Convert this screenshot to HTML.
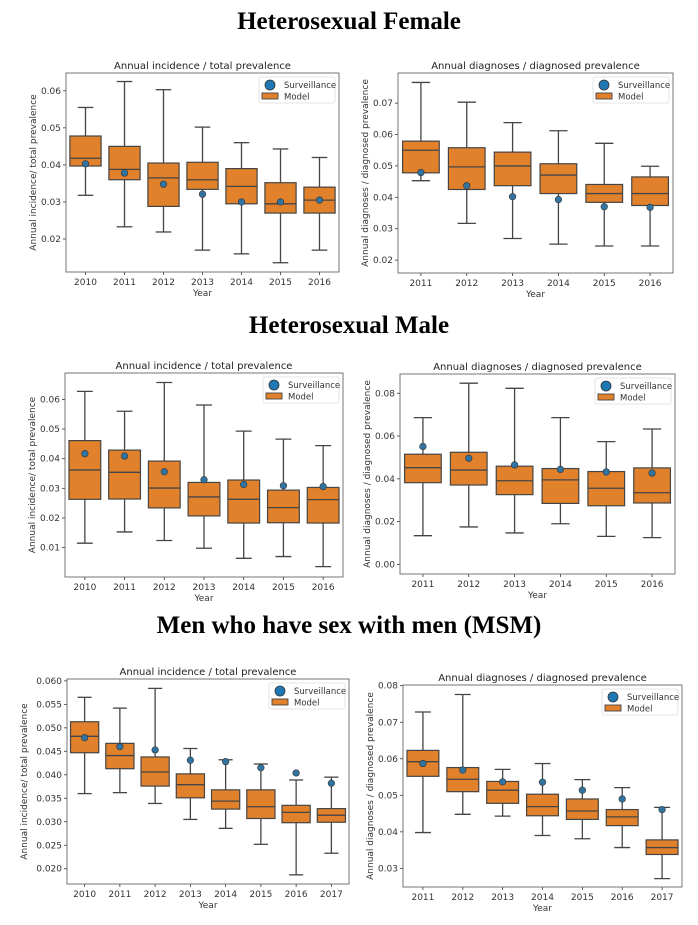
<!DOCTYPE html>
<html><head><meta charset="utf-8">
<style>
html,body{margin:0;padding:0;background:#fff;}
body{width:698px;height:925px;overflow:hidden;position:relative;font-family:"DejaVu Sans","Liberation Sans",sans-serif;}
.h{position:absolute;left:0;width:698px;text-align:center;font-family:"Liberation Serif",serif;font-weight:bold;font-size:25px;color:#000;}
svg{position:absolute;left:0;top:0;}
</style></head>
<body>
<div class="h" style="top:8px">Heterosexual Female</div>
<div class="h" style="top:312px">Heterosexual Male</div>
<div class="h" style="top:612px">Men who have sex with men (MSM)</div>
<svg id="fig" width="698" height="925"></svg>
<script>
// ---- Heterosexual female, incidence / total prevalence
const hfIncYears=["2010","2011","2012","2013","2014","2015","2016"];
const hfIncLo=[0.0318,0.0233,0.0219,0.0170,0.0160,0.0136,0.0170];
const hfIncQ1=[0.0397,0.0360,0.0288,0.0334,0.0295,0.0270,0.0270];
const hfIncMed=[0.0418,0.0388,0.0365,0.0360,0.0342,0.0295,0.0305];
const hfIncQ3=[0.0478,0.0450,0.0405,0.0407,0.0390,0.0352,0.0340];
const hfIncHi=[0.0555,0.0625,0.0603,0.0502,0.0460,0.0443,0.0420];
const hfIncSurv=[0.0403,0.0378,0.0348,0.0321,0.0300,0.0300,0.0305];
const hfIncTicks=[0.02,0.03,0.04,0.05,0.06];
// ---- Heterosexual female, diagnoses / diagnosed prevalence
const hfDxYears=["2011","2012","2013","2014","2015","2016"];
const hfDxLo=[0.0453,0.0317,0.0269,0.0251,0.0245,0.0245];
const hfDxQ1=[0.0478,0.0425,0.0437,0.0412,0.0384,0.0374];
const hfDxMed=[0.0550,0.0497,0.0500,0.0471,0.0412,0.0412];
const hfDxQ3=[0.0579,0.0558,0.0544,0.0507,0.0441,0.0465];
const hfDxHi=[0.0766,0.0703,0.0638,0.0612,0.0572,0.0499];
const hfDxSurv=[0.0479,0.0437,0.0402,0.0393,0.0370,0.0368];
const hfDxTicks=[0.02,0.03,0.04,0.05,0.06,0.07];
// ---- Heterosexual male, incidence
const hmIncYears=["2010","2011","2012","2013","2014","2015","2016"];
const hmIncLo=[0.0115,0.0153,0.0124,0.0098,0.0064,0.0070,0.0036];
const hmIncQ1=[0.0263,0.0264,0.0234,0.0207,0.0183,0.0184,0.0183];
const hmIncMed=[0.0362,0.0354,0.0301,0.0271,0.0263,0.0235,0.0262];
const hmIncQ3=[0.0461,0.0429,0.0392,0.0320,0.0328,0.0294,0.0303];
const hmIncHi=[0.0627,0.0560,0.0657,0.0581,0.0493,0.0466,0.0444];
const hmIncSurv=[0.0417,0.0409,0.0356,0.0329,0.0313,0.0309,0.0306];
const hmIncTicks=[0.01,0.02,0.03,0.04,0.05,0.06];
// ---- Heterosexual male, diagnoses
const hmDxYears=["2011","2012","2013","2014","2015","2016"];
const hmDxLo=[0.0134,0.0175,0.0147,0.0190,0.0131,0.0125];
const hmDxQ1=[0.0382,0.0371,0.0326,0.0285,0.0274,0.0287];
const hmDxMed=[0.0452,0.0441,0.0391,0.0395,0.0356,0.0335];
const hmDxQ3=[0.0515,0.0524,0.0459,0.0448,0.0434,0.0451];
const hmDxHi=[0.0686,0.0847,0.0823,0.0686,0.0574,0.0633];
const hmDxSurv=[0.0551,0.0496,0.0465,0.0444,0.0432,0.0427];
const hmDxTicks=[0.00,0.02,0.04,0.06,0.08];
// ---- MSM, incidence
const msmIncYears=["2010","2011","2012","2013","2014","2015","2016","2017"];
const msmIncLo=[0.0360,0.0362,0.0339,0.0305,0.0286,0.0252,0.0187,0.0233];
const msmIncQ1=[0.0447,0.0413,0.0376,0.0351,0.0327,0.0307,0.0298,0.0299];
const msmIncMed=[0.0482,0.0441,0.0406,0.0379,0.0344,0.0332,0.0320,0.0314];
const msmIncQ3=[0.0513,0.0467,0.0438,0.0402,0.0368,0.0368,0.0335,0.0328];
const msmIncHi=[0.0565,0.0542,0.0584,0.0456,0.0432,0.0423,0.0389,0.0395];
const msmIncSurv=[0.0479,0.0460,0.0453,0.0431,0.0428,0.0415,0.0404,0.0382];
const msmIncTicks=[0.020,0.025,0.030,0.035,0.040,0.045,0.050,0.055,0.060];
// ---- MSM, diagnoses
const msmDxYears=["2011","2012","2013","2014","2015","2016","2017"];
const msmDxLo=[0.0398,0.0448,0.0443,0.0390,0.0381,0.0357,0.0272];
const msmDxQ1=[0.0552,0.0510,0.0478,0.0444,0.0434,0.0417,0.0338];
const msmDxMed=[0.0592,0.0544,0.0514,0.0469,0.0457,0.0441,0.0357];
const msmDxQ3=[0.0623,0.0576,0.0538,0.0503,0.0490,0.0461,0.0378];
const msmDxHi=[0.0728,0.0776,0.0571,0.0587,0.0543,0.0521,0.0467];
const msmDxSurv=[0.0587,0.0569,0.0537,0.0536,0.0514,0.0490,0.0461];
const msmDxTicks=[0.03,0.04,0.05,0.06,0.07,0.08];

const NS="http://www.w3.org/2000/svg";
const fig=document.getElementById('fig');
function mk(tag,attrs,parent,text){
  const e=document.createElementNS(NS,tag);
  for(const k in attrs)e.setAttribute(k,attrs[k]);
  if(text!==undefined)e.textContent=text;
  parent.appendChild(e);return e;
}
function panel(id,L,R,T,B,ymin,ymax,dec,title,ylabel,years,lo,q1,med,q3,hi,surv,ticks){
  const g=mk('g',{},fig);
  
  
  const y=v=>B-(v-ymin)/(ymax-ymin)*(B-T);
  const step=(R-L)/years.length;
  const x=i=>L+step*(i+0.5);
  const bw=step*0.8;
  const ec='#454545';
  for(let i=0;i<years.length;i++){
    const bg=mk('g',{},g);
    
    
    const cx=x(i);
    mk('line',{x1:cx,x2:cx,y1:y(hi[i]),y2:y(q3[i]),stroke:ec,'stroke-width':1.3},bg);
    mk('line',{x1:cx,x2:cx,y1:y(q1[i]),y2:y(lo[i]),stroke:ec,'stroke-width':1.3},bg);
    mk('line',{x1:cx-bw/4,x2:cx+bw/4,y1:y(hi[i]),y2:y(hi[i]),stroke:ec,'stroke-width':1.3},bg);
    mk('line',{x1:cx-bw/4,x2:cx+bw/4,y1:y(lo[i]),y2:y(lo[i]),stroke:ec,'stroke-width':1.3},bg);
    mk('rect',{x:cx-bw/2,y:y(q3[i]),width:bw,height:y(q1[i])-y(q3[i]),fill:'#e1812c',stroke:ec,'stroke-width':1.2},bg);
    mk('line',{x1:cx-bw/2,x2:cx+bw/2,y1:y(med[i]),y2:y(med[i]),stroke:ec,'stroke-width':1.3},bg);
    const d=mk('circle',{cx:cx,cy:y(surv[i]),r:3.3,fill:'#3274a1',stroke:'#333','stroke-width':0.6},g);
    
    
    const tl=mk('text',{x:cx,y:B+13,'font-size':9,'text-anchor':'middle',fill:'#333'},g,years[i]);
    
    
    mk('line',{x1:cx,x2:cx,y1:B,y2:B+3,stroke:'#333','stroke-width':0.8},g);
  }
  for(const t of ticks){
    const ty=y(t);
    mk('line',{x1:L-3,x2:L,y1:ty,y2:ty,stroke:'#333','stroke-width':0.8},g);
    const tl=mk('text',{x:L-5,y:ty+3,'font-size':9,'text-anchor':'end',fill:'#333'},g,t.toFixed(dec));
    
    
  }
  const fr=mk('rect',{x:L,y:T,width:R-L,height:B-T,fill:'none',stroke:'#666','stroke-width':0.9},g);
  
  
  const tt=mk('text',{x:(L+R)/2,y:T-4,'font-size':10,'text-anchor':'middle',fill:'#222'},g,title);
  
  
  const xl=mk('text',{x:(L+R)/2,y:B+24,'font-size':9,'text-anchor':'middle',fill:'#333'},g,'Year');
  
  
  const yx=L-(dec===3?40:30);
  const yl=mk('text',{x:yx,y:(T+B)/2,'font-size':9,'text-anchor':'middle',fill:'#333',transform:`rotate(-90 ${yx} ${(T+B)/2})`},g,ylabel);
  
  
  // legend
  const lg=mk('g',{},g);
  
  
  const lw=76,lx=R-lw-4,ly=T+4;
  mk('rect',{x:lx,y:ly,width:lw,height:26,fill:'#fff','fill-opacity':0.8,stroke:'#ddd','stroke-width':0.8,rx:2},lg);
  mk('circle',{cx:lx+11,cy:ly+8,r:5,fill:'#1f77b4',stroke:'#333','stroke-width':0.8},lg);
  mk('text',{x:lx+25,y:ly+11,'font-size':8.5,fill:'#333'},lg,'Surveillance');
  mk('rect',{x:lx+3,y:ly+16,width:16,height:6,fill:'#e1812c',stroke:'#454545','stroke-width':0.9},lg);
  mk('text',{x:lx+25,y:ly+22.5,'font-size':8.5,fill:'#333'},lg,'Model');
}
panel('hf-incidence-chart',66,339,73,272,0.0111,0.0648,2,'Annual incidence / total prevalence','Annual incidence/ total prevalence',hfIncYears,hfIncLo,hfIncQ1,hfIncMed,hfIncQ3,hfIncHi,hfIncSurv,hfIncTicks);
panel('hf-diagnoses-chart',398,673,73,273,0.0159,0.0796,2,'Annual diagnoses / diagnosed prevalence','Annual diagnoses / diagnosed prevalence',hfDxYears,hfDxLo,hfDxQ1,hfDxMed,hfDxQ3,hfDxHi,hfDxSurv,hfDxTicks);
panel('hm-incidence-chart',65,343,373,577,0.0001,0.0689,2,'Annual incidence / total prevalence','Annual incidence/ total prevalence',hmIncYears,hmIncLo,hmIncQ1,hmIncMed,hmIncQ3,hmIncHi,hmIncSurv,hmIncTicks);
panel('hm-diagnoses-chart',400,675,374,574,-0.0045,0.089,2,'Annual diagnoses / diagnosed prevalence','Annual diagnoses / diagnosed prevalence',hmDxYears,hmDxLo,hmDxQ1,hmDxMed,hmDxQ3,hmDxHi,hmDxSurv,hmDxTicks);
panel('msm-incidence-chart',67,349,679,884,0.01675,0.0604,3,'Annual incidence / total prevalence','Annual incidence/ total prevalence',msmIncYears,msmIncLo,msmIncQ1,msmIncMed,msmIncQ3,msmIncHi,msmIncSurv,msmIncTicks);
panel('msm-diagnoses-chart',403,682,685,887,0.0249,0.0802,2,'Annual diagnoses / diagnosed prevalence','Annual diagnoses / diagnosed prevalence',msmDxYears,msmDxLo,msmDxQ1,msmDxMed,msmDxQ3,msmDxHi,msmDxSurv,msmDxTicks);
</script>
</body></html>
